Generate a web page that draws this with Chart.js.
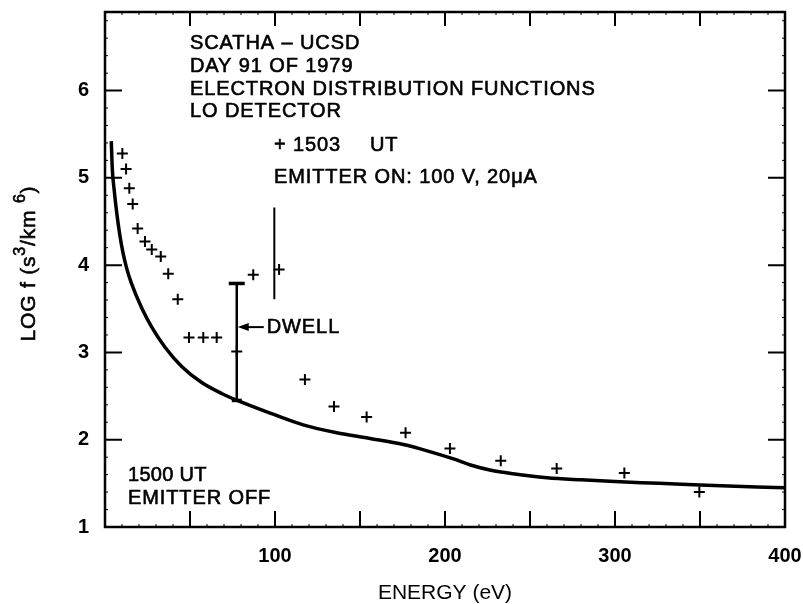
<!DOCTYPE html>
<html><head><meta charset="utf-8">
<script src="https://cdn.jsdelivr.net/npm/chart.js@4.4.1/dist/chart.umd.min.js"></script>
<style>html,body{margin:0;padding:0;background:#fff}canvas{display:block}</style>
</head><body>
<canvas id="c" width="803" height="604"></canvas>
<script>
// 1500 UT, emitter off (solid curve)
const curveEnergy = [3.7, 4.3, 5.3, 6.9, 8.6, 10.6, 12.8, 15.4, 21.6, 27.5, 35.3, 45.1, 56.9, 68.6, 78.4, 88.2, 97.1, 116.6, 136.3, 155.9, 175.5, 190.0, 205.0, 215.0, 227.0, 240.0, 260.0, 280.0, 300.0, 326.0, 350.0, 400.0];
const curveLogF   = [5.42, 5.10, 4.88, 4.60, 4.36, 4.14, 3.96, 3.80, 3.51, 3.29, 3.06, 2.84, 2.655, 2.53, 2.445, 2.37, 2.305, 2.17, 2.08, 2.015, 1.945, 1.87, 1.78, 1.71, 1.65, 1.61, 1.565, 1.54, 1.52, 1.50, 1.48, 1.45];
// 1503 UT, emitter on (+ markers)
const emitterOnEnergy = [10.2, 12.4, 14.3, 16.3, 19.2, 23.5, 27.5, 32.8, 37.2, 42.8, 49.4, 57.8, 65.7, 77.5, 87.2, 102.4, 117.6, 134.7, 153.9, 176.8, 202.9, 232.8, 265.7, 305.5, 349.6];
const emitterOnLogF   = [5.28, 5.10, 4.88, 4.70, 4.42, 4.27, 4.18, 4.10, 3.90, 3.61, 3.17, 3.17, 3.17, 3.01, 3.89, 3.95, 2.69, 2.38, 2.26, 2.08, 1.90, 1.76, 1.67, 1.62, 1.40];
// dwell bar and the vertical line near 100 eV
const dwellEnergy = [77.5, 77.5];
const dwellLogF   = [3.79, 2.45];
const markEnergy  = [99.6, 99.6];
const markLogF    = [4.66, 3.61];
// axes
const xRange = [0, 400];
const yRange = [1, 6.9];
const xTickLabels = ['100', '200', '300', '400'];
const yTickLabels = ['1', '2', '3', '4', '5', '6'];

const pts = (xs, ys) => xs.map((v, i) => ({x: v, y: ys[i]}));
const FONT = '"Liberation Sans", Arial, Helvetica, sans-serif';

function txt(ctx, s, x, y) {
  ctx.fillText(s, x, y);
  ctx.strokeText(s, x, y);
}

const decor = {
  id: 'decor',
  afterDatasetsDraw(chart) {
    const {ctx, chartArea: a, scales: {x, y}} = chart;
    ctx.save();
    ctx.strokeStyle = '#000';
    ctx.fillStyle = '#000';
    ctx.lineCap = 'butt';
    // frame
    ctx.lineWidth = 2.5;
    ctx.strokeRect(a.left, a.top, a.right - a.left, a.bottom - a.top);
    // major ticks (inward)
    ctx.lineWidth = 2;
    ctx.beginPath();
    for (let v = 50; v < 400; v += 50) {
      const px = x.getPixelForValue(v);
      ctx.moveTo(px, a.bottom); ctx.lineTo(px, a.bottom - 16);
      ctx.moveTo(px, a.top); ctx.lineTo(px, a.top + 14);
    }
    for (let v = 2; v <= 6; v++) {
      const py = y.getPixelForValue(v);
      ctx.moveTo(a.left, py); ctx.lineTo(a.left + 17, py);
      ctx.moveTo(a.right, py); ctx.lineTo(a.right - 17, py);
    }
    ctx.stroke();
    // minor ticks
    ctx.lineWidth = 1;
    ctx.beginPath();
    for (let v = 10; v < 400; v += 10) {
      if (v % 50 === 0) continue;
      const px = x.getPixelForValue(v);
      ctx.moveTo(px, a.bottom); ctx.lineTo(px, a.bottom - 3);
      ctx.moveTo(px, a.top); ctx.lineTo(px, a.top + 3);
    }
    for (let k = 12; k < 69; k += 2) {
      if (k % 10 === 0) continue;
      const py = y.getPixelForValue(k / 10);
      ctx.moveTo(a.left, py); ctx.lineTo(a.left + 3, py);
      ctx.moveTo(a.right, py); ctx.lineTo(a.right - 3, py);
    }
    ctx.stroke();

    // DWELL arrow
    const bx = x.getPixelForValue(dwellEnergy[0]);
    const ay = y.getPixelForValue(3.29);
    ctx.lineWidth = 2;
    ctx.beginPath();
    ctx.moveTo(bx + 8, ay); ctx.lineTo(bx + 27, ay);
    ctx.stroke();
    ctx.beginPath();
    ctx.moveTo(bx + 1, ay); ctx.lineTo(bx + 12, ay - 4); ctx.lineTo(bx + 12, ay + 4); ctx.closePath();
    ctx.fill();

    // text annotations
    ctx.textBaseline = 'middle';
    ctx.textAlign = 'left';
    ctx.lineWidth = 0.6;
    ctx.font = '20px ' + FONT;
    ctx.letterSpacing = '0.9px';
    const L = a.left;
    txt(ctx, 'SCATHA \u2013 UCSD', L + 85, 43.5);
    txt(ctx, 'DAY 91 OF 1979', L + 85, 66);
    txt(ctx, 'ELECTRON DISTRIBUTION FUNCTIONS', L + 85, 89);
    txt(ctx, 'LO DETECTOR', L + 85, 111.5);
    txt(ctx, '+ 1503', L + 169, 145.5);
    txt(ctx, 'UT', L + 265, 145.5);
    txt(ctx, 'EMITTER ON: 100 V, 20\u03BCA', L + 169, 177);
    txt(ctx, 'DWELL', bx + 30, ay);
    txt(ctx, 'EMITTER OFF', L + 23, 498);
    ctx.letterSpacing = '0.3px';
    txt(ctx, '1500 UT', L + 23, 475.5);

    // y-axis title with superscripts, rotated
    ctx.letterSpacing = '0.8px';
    const big = '21px ' + FONT, small = '16px ' + FONT;
    const parts = [['LOG f (s', big, 0], ['3', small, -8], ['/km ', big, 0], ['6', small, -8], [')', big, 0]];
    let total = 0;
    for (const [s, f] of parts) { ctx.font = f; total += ctx.measureText(s).width; }
    ctx.translate(29, (a.top + a.bottom) / 2 - 6);
    ctx.rotate(-Math.PI / 2);
    let cx = -total / 2;
    for (const [s, f, dy] of parts) {
      ctx.font = f;
      txt(ctx, s, cx, dy);
      cx += ctx.measureText(s).width;
    }
    ctx.restore();
  }
};

new Chart(document.getElementById('c'), {
  type: 'scatter',
  data: {
    datasets: [
      {
        label: '1500 UT EMITTER OFF',
        type: 'line',
        data: pts(curveEnergy, curveLogF),
        borderColor: '#000', borderWidth: 3.5,
        pointRadius: 0, cubicInterpolationMode: 'monotone', fill: false
      },
      {
        label: '1503 UT EMITTER ON',
        data: pts(emitterOnEnergy, emitterOnLogF),
        pointStyle: 'cross', pointRadius: 5.5, pointBorderWidth: 2,
        borderColor: '#000', backgroundColor: '#000', showLine: false
      },
      {
        label: 'DWELL',
        type: 'line',
        data: pts(dwellEnergy, dwellLogF),
        borderColor: '#000', borderWidth: 2.5,
        pointStyle: 'line', pointRadius: [8, 5], pointBorderWidth: 3.5,
        pointBorderColor: '#000', fill: false
      },
      {
        label: 'marker',
        type: 'line',
        data: pts(markEnergy, markLogF),
        borderColor: '#000', borderWidth: 2,
        pointRadius: 0, fill: false
      }
    ]
  },
  options: {
    responsive: false,
    animation: false,
    devicePixelRatio: 1,
    layout: {padding: {top: 12, right: 18, bottom: 0, left: 0}},
    plugins: {legend: {display: false}, tooltip: {enabled: false}},
    scales: {
      x: {
        type: 'linear', min: xRange[0], max: xRange[1],
        grid: {display: false, drawTicks: false, tickLength: 0},
        border: {display: false},
        afterFit: s => { s.height = 77; s.paddingLeft = 0; s.paddingRight = 0; },
        ticks: {
          stepSize: 100, autoSkip: false, maxRotation: 0, padding: 17,
          color: '#000', font: {family: FONT, size: 20, weight: 'bold'},
          callback: v => xTickLabels.includes(String(v)) ? String(v) : ''
        },
        title: {display: true, text: 'ENERGY (eV)', color: '#000',
          font: {family: FONT, size: 21, lineHeight: 1}, padding: {top: 0, bottom: 0.5}}
      },
      y: {
        type: 'linear', min: yRange[0], max: yRange[1],
        grid: {display: false, drawTicks: false, tickLength: 0},
        border: {display: false},
        afterFit: s => { s.width = 105; s.paddingTop = 0; s.paddingBottom = 0; },
        ticks: {
          stepSize: 1, includeBounds: false, padding: 16,
          color: '#000', font: {family: FONT, size: 20, weight: 'bold'},
          callback: v => yTickLabels.includes(String(v)) ? String(v) : ''
        },
        title: {display: false}
      }
    }
  },
  plugins: [decor]
});
</script>
</body></html>
